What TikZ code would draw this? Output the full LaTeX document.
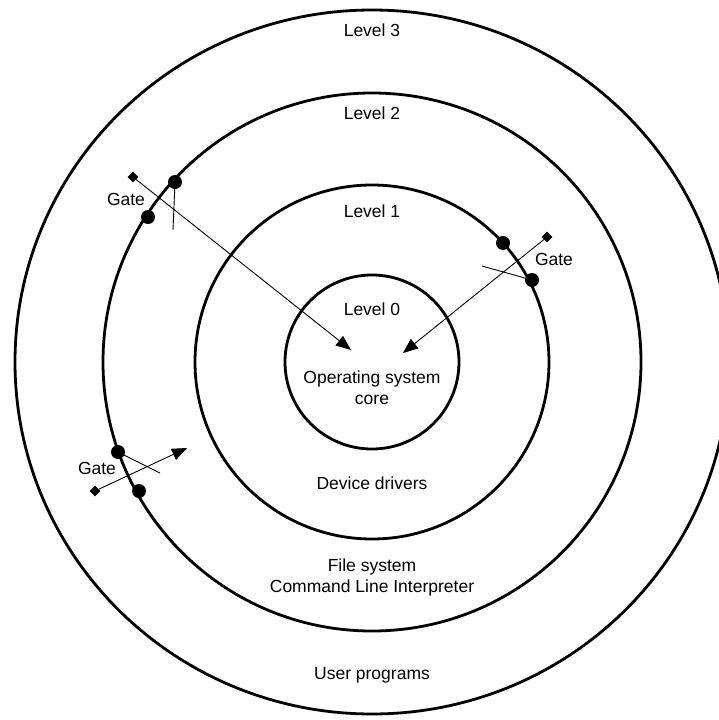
\documentclass[tikz,border=0pt]{standalone}
\usepackage{fontspec}
\setmainfont{Liberation Sans}
\usetikzlibrary{arrows.meta,shapes.geometric}

\begin{document}
\begin{tikzpicture}[x=1pt,y=-1pt,
    ring/.style={line width=2.8pt},
    gateline/.style={line width=0.9pt},
    dot/.style={circle,fill,inner sep=0pt,minimum size=14pt},
    handle/.style={diamond,fill,inner sep=0pt,minimum size=11pt},
    lbl/.style={font=\fontsize{17.5}{21}\selectfont,align=center,inner sep=1pt},
    pass/.style={gateline,-{Triangle[length=15pt,width=12pt]}}]
      \useasboundingbox (0,0) rectangle (719,720);
      \clip (0,0) rectangle (719,720);

      % the four rings
      \coordinate (o) at (372,362);
      \draw[ring] (o) ellipse [x radius=357, y radius=352];
      \draw[ring] (o) circle [radius=269];
      \draw[ring] (o) circle [radius=177];
      \draw[ring] (o) circle [radius=87];

      \node[lbl] (l3) at (372,30){Level 3};
      \node[lbl] (l2) at (372,113){Level 2};
      \node[lbl] (l1) at (372,211){Level 1};
      \node[lbl] (l0) at (372,309){Level 0};
      \node[lbl] (core) at (372,388){Operating system\\core};
      \node[lbl] (dev) at (372,483){Device drivers};
      \node[lbl] (fs) at (372,577){File system\\Command Line Interpreter};
      \node[lbl] (usr) at (372,675){User programs};

      % gate on level 2, upper left
      \node[dot] (a1) at (175,182){};
      \node[dot] (a2) at (148,217){};
      \node[handle] (ha) at (133,177){};
      \node[lbl] (ga) at (126,199){Gate};
      \coordinate (ka) at (173,230);
      \coordinate (ta) at (351,350);
      \draw[gateline] (a1.center) -- (ka);
      \draw[pass] (ha) -- (ta);

      % gate on level 1, right
      \node[dot] (b1) at (503,243){};
      \node[dot] (b2) at (532,280){};
      \node[handle] (hb) at (547,237){};
      \node[lbl] (gb) at (554,259){Gate};
      \coordinate (kb) at (482,266);
      \coordinate (tb) at (403,353);
      \draw[gateline] (kb) -- (b2.center);
      \draw[pass] (hb) -- (tb);

      % gate on level 2, lower left
      \node[dot] (c1) at (118,452){};
      \node[dot] (c2) at (139,491){};
      \node[handle] (hc) at (95,491){};
      \node[lbl] (gc) at (97,468){Gate};
      \coordinate (kc) at (160,473);
      \coordinate (tc) at (187,448);
      \draw[gateline] (c1.center) -- (kc);
      \draw[pass] (hc) -- (tc);
    \end{tikzpicture}
\end{document}
